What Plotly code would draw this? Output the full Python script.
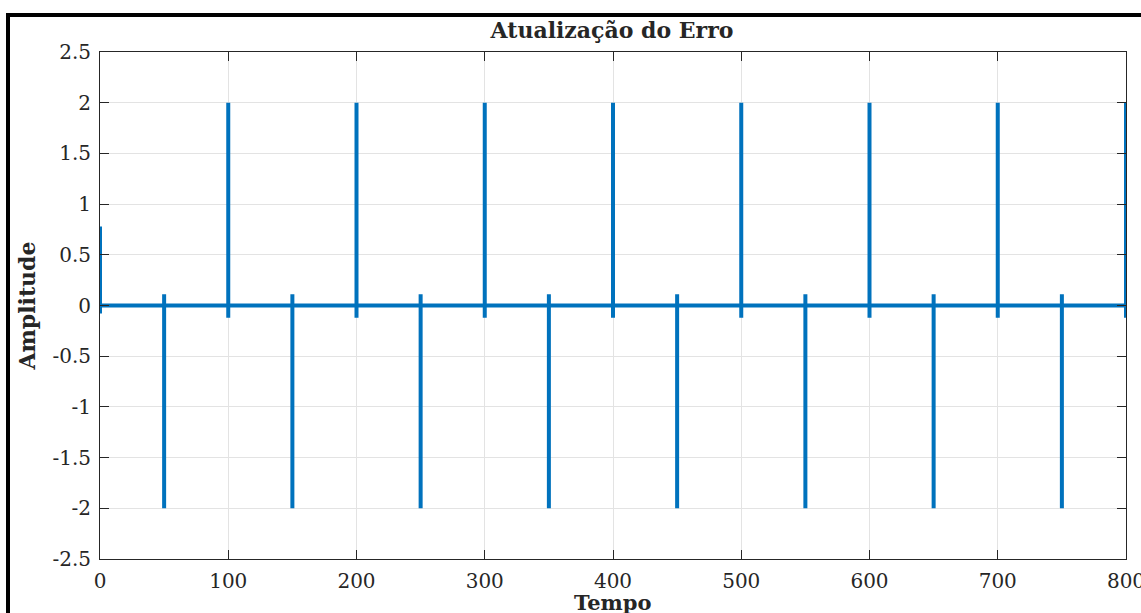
import plotly.graph_objects as go

# Data
spike_times = [0, 50, 100, 150, 200, 250, 300, 350, 400, 450, 500, 550, 600, 650, 700, 750, 800]
spike_high = [0.78, 0.11, 2.0, 0.11, 2.0, 0.11, 2.0, 0.11, 2.0, 0.11, 2.0, 0.11, 2.0, 0.11, 2.0, 0.11, 2.0]
spike_low = [-0.08, -2.0, -0.12, -2.0, -0.12, -2.0, -0.12, -2.0, -0.12, -2.0, -0.12, -2.0, -0.12, -2.0, -0.12, -2.0, -0.12]

x_tick_vals = [0, 100, 200, 300, 400, 500, 600, 700, 800]
y_tick_vals = [-2.5, -2, -1.5, -1, -0.5, 0, 0.5, 1, 1.5, 2, 2.5]
y_tick_text = ["-2.5", "-2", "-1.5", "-1", "-0.5", "0", "0.5", "1", "1.5", "2", "2.5"]

# Build the error trace: baseline 0 with a vertical excursion at each spike time
xs, ys = [], []
for t, hi, lo in zip(spike_times, spike_high, spike_low):
    xs += [t, t, t, t]
    ys += [0, hi, lo, 0]

FONT = "DejaVu Serif"
W, H = 1141, 613
ml, mr, mt, mb = 100, 15, 52, 54

fig = go.Figure()
fig.add_trace(go.Scatter(x=xs, y=ys, mode="lines",
                         line=dict(color="#0072BD", width=4), showlegend=False))

axis_common = dict(showline=True, linecolor="#262626", linewidth=1, mirror="ticks",
                   ticks="inside", ticklen=9, tickcolor="#262626",
                   showgrid=True, gridcolor="#E3E3E3", gridwidth=1, zeroline=False,
                   automargin=False, ticklabeloverflow="allow",
                   tickfont=dict(family=FONT, size=20, color="#262626"))

fig.update_xaxes(range=[0, 800], tickvals=x_tick_vals, ticklabelstandoff=4, **axis_common)
fig.update_yaxes(range=[-2.5, 2.5], tickvals=y_tick_vals, ticktext=y_tick_text, ticklabelstandoff=4,
                 title=dict(text="<b>Amplitude</b>", font=dict(family=FONT, size=22, color="#262626"), standoff=10),
                 **axis_common)

# outer black frame (top and left edges, as in the reference screenshot)
pw, ph = W - ml - mr, H - mt - mb
def px2x(px): return (px - ml) / pw
def py2y(py): return (H - mb - py) / ph

fig.add_shape(type="line", xref="paper", yref="paper",
              x0=px2x(8), x1=px2x(8), y0=py2y(615), y1=py2y(13),
              line=dict(color="black", width=4))
fig.add_shape(type="line", xref="paper", yref="paper",
              x0=px2x(6), x1=px2x(1145), y0=py2y(15), y1=py2y(15),
              line=dict(color="black", width=4))

# x-axis title placed as in the reference (tight under the tick labels)
fig.add_annotation(text="<b>Tempo</b>", xref="paper", yref="paper",
                   x=px2x(613), y=py2y(602), xanchor="center", yanchor="middle",
                   showarrow=False, font=dict(family=FONT, size=21, color="#262626"))

fig.update_layout(
    width=W, height=H,
    margin=dict(l=ml, r=mr, t=mt, b=mb),
    paper_bgcolor="white", plot_bgcolor="white",
    title=dict(text="<b>Atualização do Erro</b>", x=612 / W, xanchor="center",
               y=1 - 30 / H, yanchor="middle",
               font=dict(family=FONT, size=22, color="#262626")),
)

fig.write_html("out.html")
